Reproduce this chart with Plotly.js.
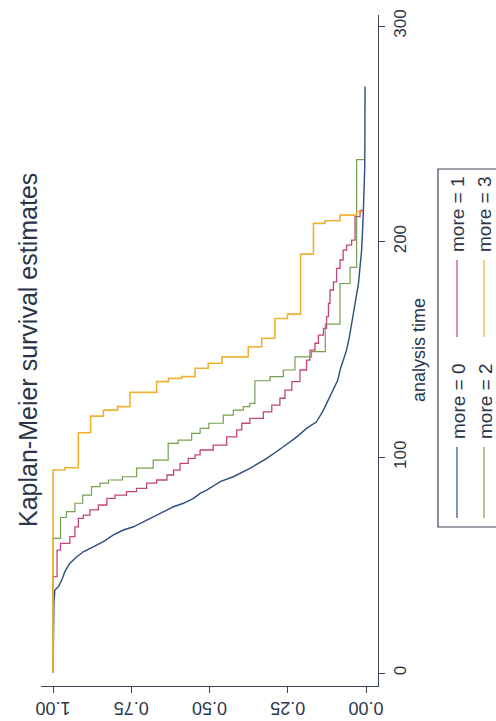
<!DOCTYPE html>
<html>
<head>
<meta charset="utf-8">
<script src="https://cdn.plot.ly/plotly-3.0.1.min.js"></script>
<style>
  html, body { margin: 0; padding: 0; background: #ffffff; }
  #chart { width: 496px; height: 721px; }
</style>
</head>
<body>
<div id="chart"></div>
<script>
// ---- data (time, survival after each drop) ----
const seriesNames = ["more = 0", "more = 1", "more = 2", "more = 3"];
const seriesColors = ["#2e4d7e", "#c4457a", "#74a052", "#f0b232"];

const time0 = [0, 32.3, 38.5, 40.0, 43.1, 47.0, 50.9, 53.9, 56.2, 58.6, 60.9, 64.0, 66.3, 67.8, 70.1, 72.5, 74.8, 77.1, 78.7, 81.0, 83.3, 84.8, 88.7, 91.0, 94.9, 99.5, 104.9, 109.5, 113.4, 116.5, 121.9, 126.6, 131.2, 135.8, 140.5, 145.1, 149.7, 155.9, 162.1, 168.3, 174.5, 180.7, 188.4, 196.1, 211.6, 234.7, 272.0];
const surv0 = [1.0, 0.997, 0.994, 0.983, 0.972, 0.962, 0.946, 0.924, 0.903, 0.871, 0.839, 0.807, 0.775, 0.743, 0.711, 0.679, 0.647, 0.615, 0.583, 0.551, 0.530, 0.509, 0.466, 0.424, 0.371, 0.317, 0.264, 0.221, 0.190, 0.158, 0.136, 0.120, 0.104, 0.090, 0.083, 0.073, 0.062, 0.053, 0.046, 0.038, 0.032, 0.024, 0.019, 0.014, 0.009, 0.004, 0.003];

const time1 = [0, 44.7, 57.0, 60.1, 63.2, 67.8, 71.7, 73.2, 75.6, 77.9, 81.0, 82.5, 84.1, 85.6, 88.0, 89.5, 91.8, 94.1, 97.2, 99.5, 101.1, 103.4, 105.7, 109.5, 112.7, 115.8, 118.1, 121.1, 124.2, 127.4, 131.2, 135.1, 140.5, 145.1, 149.7, 152.9, 156.7, 159.8, 165.2, 171.4, 177.6, 181.4, 187.6, 191.5, 196.1, 198.4, 200.7, 211.6, 214.5];
const surv1 = [1.0, 0.987, 0.976, 0.946, 0.930, 0.919, 0.903, 0.882, 0.855, 0.828, 0.802, 0.765, 0.733, 0.701, 0.669, 0.636, 0.615, 0.594, 0.568, 0.546, 0.530, 0.488, 0.445, 0.413, 0.397, 0.371, 0.328, 0.301, 0.275, 0.259, 0.237, 0.211, 0.190, 0.179, 0.163, 0.152, 0.136, 0.126, 0.120, 0.115, 0.104, 0.094, 0.083, 0.073, 0.062, 0.046, 0.035, 0.019, 0.008];

const time2 = [0, 62.4, 72.1, 74.8, 78.7, 82.5, 86.4, 88.0, 89.5, 91.0, 95.0, 98.7, 106.5, 108.0, 111.1, 113.4, 115.8, 119.6, 121.9, 123.5, 125.0, 135.5, 137.4, 140.5, 146.6, 149.0, 161.8, 180.6, 188.1, 238.0];
const surv2 = [1.0, 0.976, 0.957, 0.930, 0.905, 0.877, 0.850, 0.823, 0.778, 0.733, 0.680, 0.632, 0.600, 0.557, 0.530, 0.502, 0.456, 0.424, 0.392, 0.371, 0.355, 0.307, 0.264, 0.227, 0.174, 0.130, 0.083, 0.051, 0.030, 0.005];

const time3 = [0, 94.1, 95.2, 111.4, 119.1, 121.9, 123.5, 130.1, 135.1, 136.6, 137.4, 141.3, 143.6, 146.6, 151.3, 155.2, 164.4, 166.4, 194.2, 208.5, 209.7, 212.3, 213.9];
const surv3 = [1.0, 0.962, 0.919, 0.880, 0.839, 0.794, 0.754, 0.669, 0.631, 0.589, 0.546, 0.504, 0.460, 0.376, 0.333, 0.291, 0.251, 0.209, 0.168, 0.131, 0.083, 0.030, 0.012];

const survTicks = [0, 0.25, 0.5, 0.75, 1];
const survTickLabels = ["0.00", "0.25", "0.50", "0.75", "1.00"];
const timeTicks = [0, 100, 200, 300];
const timeTickLabels = ["0", "100", "200", "300"];

const chartTitle = "Kaplan-Meier survival estimates";
const timeAxisTitle = "analysis time";

// ---- build ----
const FONT = "Liberation Sans, Arial, Helvetica, sans-serif";
const TXT = "#2a3548";
const AX = "#3a4656";

const times = [time0, time1, time2, time3];
const survs = [surv0, surv1, surv2, surv3];
const widths = [1.4, 1.3, 1.2, 1.6];
// more = 0 has so many tiny steps that it reads as a jagged continuous line
const shapesOfLine = ["linear", "vh", "vh", "vh"];

const traces = times.map((t, i) => ({
  type: "scatter",
  mode: "lines",
  x: survs[i],
  y: t,
  name: seriesNames[i],
  line: { color: seriesColors[i], width: widths[i], shape: shapesOfLine[i] },
  hoverinfo: "skip"
}));

// plot area in pixels: x 41..378, y 15..686
const L = 41, R = 378, T = 15, B = 686;
const px = v => (v - L) / (R - L);
const py = v => (B - v) / (B - T);

const annotations = [
  { text: chartTitle, xref: "paper", yref: "paper", x: px(28), y: py(350),
    xanchor: "center", yanchor: "middle", textangle: -90, showarrow: false,
    font: { family: FONT, size: 25, color: TXT } },
  { text: timeAxisTitle, xref: "paper", yref: "paper", x: px(419), y: py(350),
    xanchor: "center", yanchor: "middle", textangle: -90, showarrow: false,
    font: { family: FONT, size: 18, color: TXT } }
];

const shapes = [
  { type: "rect", xref: "paper", yref: "paper", x0: px(438), x1: px(520), y0: py(527), y1: py(169),
    line: { color: "#3a4656", width: 1.2 }, fillcolor: "rgba(0,0,0,0)" }
];

// legend: rows at x, columns along y
const legRowX = [457, 484];
const legKeyY = [[447, 518], [260, 337]];
const legTextY = [401, 214];
seriesNames.forEach((nm, i) => {
  const row = Math.floor(i / 2), col = i % 2;
  shapes.push({ type: "line", xref: "paper", yref: "paper",
    x0: px(legRowX[row]), x1: px(legRowX[row]),
    y0: py(legKeyY[col][0]), y1: py(legKeyY[col][1]),
    line: { color: seriesColors[i], width: 1.2 } });
  annotations.push({ text: nm, xref: "paper", yref: "paper",
    x: px(legRowX[row] + 1), y: py(legTextY[col]),
    xanchor: "center", yanchor: "middle", textangle: -90, showarrow: false,
    font: { family: FONT, size: 19, color: TXT } });
});

const layout = {
  width: 496, height: 721,
  margin: { l: L, r: 496 - R, t: T, b: 721 - B, pad: 0 },
  paper_bgcolor: "#ffffff", plot_bgcolor: "#ffffff",
  showlegend: false,
  xaxis: {
    range: [1 + 12 / 313, -12 / 313],
    tickvals: survTicks, ticktext: survTickLabels,
    tickangle: 180, ticks: "outside", ticklen: 6, tickwidth: 1, tickcolor: AX,
    ticklabelstandoff: 5,
    showline: true, linecolor: AX, linewidth: 1.2,
    showgrid: false, zeroline: false,
    tickfont: { family: FONT, size: 18, color: TXT }
  },
  yaxis: {
    side: "right",
    range: [-13 / 2.157, 300 + 11 / 2.157],
    tickvals: timeTicks, ticktext: timeTickLabels,
    tickangle: -90, ticks: "outside", ticklen: 6, tickwidth: 1, tickcolor: AX,
    showline: true, linecolor: AX, linewidth: 1.2,
    showgrid: false, zeroline: false,
    tickfont: { family: FONT, size: 17, color: TXT }
  },
  annotations: annotations,
  shapes: shapes
};

Plotly.newPlot("chart", traces, layout, { staticPlot: true, displayModeBar: false });
</script>
</body>
</html>
